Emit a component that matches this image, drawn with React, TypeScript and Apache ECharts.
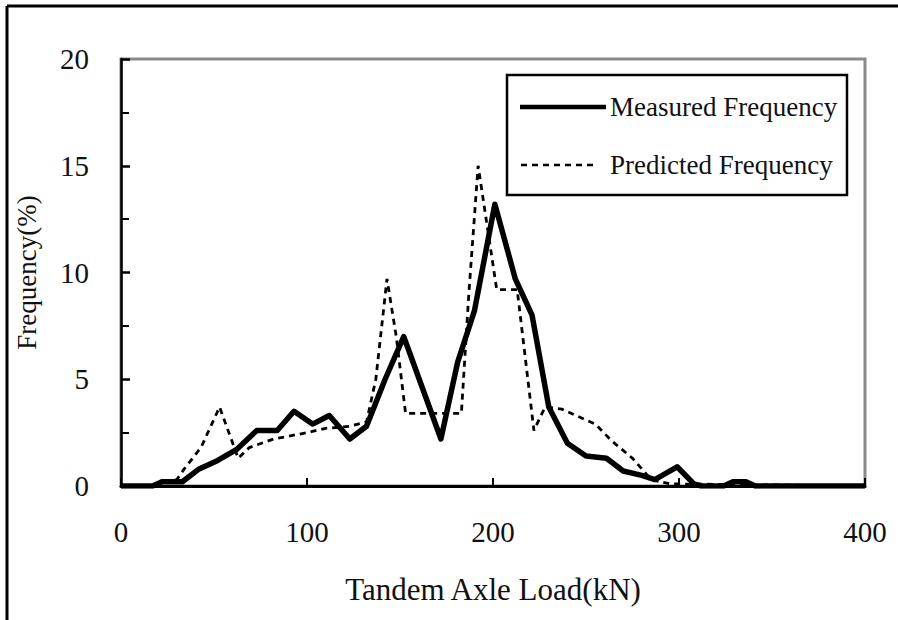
import React, { useEffect, useRef } from "react";
import * as echarts from "echarts";

const measuredX = [0, 17, 22, 33, 42, 52, 62, 73, 84, 93, 103, 112, 123, 132, 142, 152, 162, 172, 181, 190, 201, 212, 221, 230, 240, 250, 261, 270, 280, 287, 299, 308, 312, 324, 329, 336, 341, 400];
const measuredY = [0, 0, 0.2, 0.2, 0.8, 1.2, 1.7, 2.6, 2.6, 3.5, 2.9, 3.3, 2.2, 2.8, 5.0, 7.0, 4.6, 2.2, 5.8, 8.2, 13.2, 9.7, 8.0, 3.7, 2.0, 1.4, 1.3, 0.7, 0.5, 0.3, 0.9, 0.1, 0, 0, 0.2, 0.2, 0, 0];

const predictedX = [0, 17, 22, 30, 34, 43, 53, 58, 63, 69, 82, 100, 110, 123, 132, 137, 143, 148, 153, 183, 187, 192, 202, 213, 222, 228, 237, 255, 264, 275, 285, 295, 400];
const predictedY = [0, 0, 0.2, 0.3, 0.8, 1.8, 3.7, 2.5, 1.3, 1.8, 2.2, 2.5, 2.7, 2.8, 3.0, 5.0, 9.7, 7.0, 3.4, 3.4, 9.0, 15.0, 9.2, 9.2, 2.6, 3.7, 3.6, 2.9, 2.1, 1.3, 0.3, 0.1, 0];

const seriesNames = ["Measured Frequency", "Predicted Frequency"];
const xAxisName = "Tandem Axle Load(kN)";
const yAxisName = "Frequency(%)";

const FONT = "'Liberation Serif', 'Times New Roman', serif";
const DASH = [6, 5];

export default function App() {
  const ref = useRef<HTMLDivElement>(null);
  useEffect(() => {
    if (!ref.current) return;
    const chart = echarts.init(ref.current, null, { renderer: "svg" });
    const measured = measuredX.map((x, i) => [x, measuredY[i]]);
    const predicted = predictedX.map((x, i) => [x, predictedY[i]]);
    chart.setOption({
      animation: false,
      backgroundColor: "#fff",
      grid: {
        left: 121,
        right: 33,
        top: 59,
        bottom: 134,
        show: true,
        borderColor: "#8a8a8a",
        borderWidth: 3,
        backgroundColor: "transparent",
      },
      xAxis: {
        type: "value",
        min: 0,
        max: 400,
        interval: 100,
        name: xAxisName,
        nameLocation: "middle",
        nameGap: 88,
        nameTextStyle: { fontFamily: FONT, fontSize: 31, color: "#111" },
        axisLine: { show: true, onZero: false, lineStyle: { color: "#000", width: 3 } },
        axisTick: { show: true, inside: true, length: 8, lineStyle: { color: "#000", width: 2 } },
        axisLabel: { margin: 31, fontFamily: FONT, fontSize: 29, color: "#111" },
        splitLine: { show: false },
      },
      yAxis: {
        type: "value",
        min: 0,
        max: 20,
        interval: 5,
        name: yAxisName,
        nameLocation: "middle",
        nameGap: 81,
        nameTextStyle: { fontFamily: FONT, fontSize: 27, color: "#111" },
        axisLine: { show: true, lineStyle: { color: "#000", width: 2.5 } },
        axisTick: { show: true, inside: true, length: 9, lineStyle: { color: "#000", width: 2.5 } },
        minorTick: { show: true, splitNumber: 2, length: 8, lineStyle: { color: "#000", width: 2 } },
        minorSplitLine: { show: false },
        axisLabel: { margin: 32, fontFamily: FONT, fontSize: 29, color: "#111" },
        splitLine: { show: false },
      },
      graphic: [
        {
          type: "rect",
          shape: { x: 507, y: 75, width: 340, height: 120 },
          style: { fill: "#fff", stroke: "#000", lineWidth: 2.5 },
          z: 100,
        },
        {
          type: "line",
          shape: { x1: 520, y1: 107, x2: 606, y2: 107 },
          style: { stroke: "#000", lineWidth: 4.5 },
          z: 101,
        },
        {
          type: "text",
          x: 610,
          y: 107,
          style: { text: seriesNames[0], font: `27px ${FONT}`, fill: "#111", verticalAlign: "middle", align: "left" },
          z: 101,
        },
        {
          type: "line",
          shape: { x1: 521, y1: 165, x2: 598, y2: 165 },
          style: { stroke: "#000", lineWidth: 2.5, lineDash: DASH },
          z: 101,
        },
        {
          type: "text",
          x: 610,
          y: 165,
          style: { text: seriesNames[1], font: `27px ${FONT}`, fill: "#111", verticalAlign: "middle", align: "left" },
          z: 101,
        },
        {
          type: "line",
          shape: { x1: 7, y1: 6, x2: 7, y2: 640 },
          style: { stroke: "#000", lineWidth: 3 },
        },
        {
          type: "line",
          shape: { x1: 7, y1: 6, x2: 920, y2: 6 },
          style: { stroke: "#000", lineWidth: 3 },
        },
      ],
      series: [
        {
          name: seriesNames[0],
          type: "line",
          data: measured,
          symbol: "none",
          lineStyle: { color: "#000", width: 5.5, join: "round" },
          itemStyle: { color: "#000" },
          z: 3,
        },
        {
          name: seriesNames[1],
          type: "line",
          data: predicted,
          symbol: "none",
          lineStyle: { color: "#000", width: 2.8, type: DASH },
          itemStyle: { color: "#000" },
          z: 4,
        },
      ],
    });
    return () => chart.dispose();
  }, []);
  return (
    <div
      ref={ref}
      style={{ position: "absolute", left: 0, top: 0, width: 898, height: 620 }}
    />
  );
}
